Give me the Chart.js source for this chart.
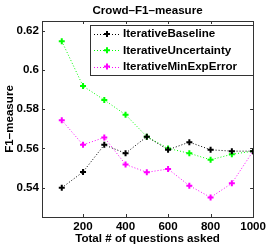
<!DOCTYPE html>
<html>
<head>
<meta charset="utf-8">
<script src="https://cdn.jsdelivr.net/npm/chart.js@4/dist/chart.umd.min.js"></script>
<style>
  html, body { margin: 0; padding: 0; background: #fff; }
  #wrap { width: 269px; height: 249px; }
</style>
</head>
<body>
<div id="wrap"><canvas id="f1-chart"></canvas></div>
<script>
const questions = [100, 200, 300, 400, 500, 600, 700, 800, 900, 1000];
const baseline = [0.5399, 0.548, 0.5618, 0.5575, 0.566, 0.5593, 0.5632, 0.5593, 0.5586, 0.5586];
const uncertainty = [0.6147, 0.5918, 0.5847, 0.5772, 0.566, 0.560, 0.5575, 0.5542, 0.557, 0.5586];
const minExpError = [0.5744, 0.5618, 0.5656, 0.5518, 0.5478, 0.5495, 0.541, 0.535, 0.5422, 0.5586];
const xTicks = [200, 400, 600, 800, 1000];
const yTicks = [0.54, 0.56, 0.58, 0.6, 0.62];
const yTickLabels = ['0.54', '0.56', '0.58', '0.6', '0.62'];

const FONT = '"Liberation Sans", Arial, Helvetica, sans-serif';
const AXIS = '#333';
const FS = 11.6;

function series(label, values, color) {
  return {
    label,
    data: questions.map((q, i) => ({ x: q, y: values[i] })),
    borderColor: color,
    backgroundColor: color,
    borderWidth: 1,
    borderDash: [1, 2],
    pointStyle: 'cross',
    pointRadius: 3,
    pointBorderWidth: 2,
    pointBorderColor: color,
    tension: 0
  };
}

// box, inward ticks, title and legend drawn MATLAB style
const matlabFrame = {
  id: 'matlabFrame',
  afterDraw(chart) {
    const ctx = chart.ctx;
    const a = chart.chartArea;
    const xs = chart.scales.x, ys = chart.scales.y;
    ctx.save();
    ctx.strokeStyle = AXIS;
    ctx.lineWidth = 1;
    ctx.strokeRect(Math.round(a.left) + 0.5, Math.round(a.top) + 0.5,
      Math.round(a.right - a.left), Math.round(a.bottom - a.top));
    ctx.beginPath();
    xTicks.forEach(v => {
      const px = Math.round(xs.getPixelForValue(v)) + 0.5;
      ctx.moveTo(px, a.bottom); ctx.lineTo(px, a.bottom - 3);
      ctx.moveTo(px, a.top); ctx.lineTo(px, a.top + 3);
    });
    yTicks.forEach(v => {
      const py = Math.round(ys.getPixelForValue(v)) + 0.5;
      ctx.moveTo(a.left, py); ctx.lineTo(a.left + 3, py);
      ctx.moveTo(a.right, py); ctx.lineTo(a.right - 3, py);
    });
    ctx.stroke();

    // title
    ctx.fillStyle = '#000';
    ctx.font = 'bold ' + FS + 'px ' + FONT;
    ctx.textAlign = 'center';
    ctx.textBaseline = 'middle';
    ctx.fillText('Crowd\u2013F1\u2013measure', (a.left + a.right) / 2, 11);

    // legend
    const lx = 90, ly = 25, lw = 163, lh = 50;
    ctx.fillStyle = '#fff';
    ctx.fillRect(lx, ly, lw, lh);
    ctx.strokeStyle = AXIS;
    ctx.strokeRect(lx + 0.5, ly + 0.5, lw, lh);
    chart.data.datasets.forEach((ds, i) => {
      const y = 34 + i * 16.3;
      ctx.strokeStyle = ds.borderColor;
      ctx.lineWidth = 1;
      ctx.setLineDash([1, 2]);
      ctx.beginPath();
      ctx.moveTo(94, Math.round(y) + 0.5); ctx.lineTo(120, Math.round(y) + 0.5);
      ctx.stroke();
      ctx.setLineDash([]);
      ctx.lineWidth = 2;
      ctx.beginPath();
      ctx.moveTo(107 - 3, y); ctx.lineTo(107 + 3, y);
      ctx.moveTo(107, y - 3); ctx.lineTo(107, y + 3);
      ctx.stroke();
      ctx.fillStyle = '#000';
      ctx.textAlign = 'left';
      ctx.fillText(ds.label, 123, y);
    });
    ctx.restore();
  }
};

new Chart(document.getElementById('f1-chart'), {
  type: 'line',
  data: {
    datasets: [
      series('IterativeBaseline', baseline, '#000000'),
      series('IterativeUncertainty', uncertainty, '#00ff00'),
      series('IterativeMinExpError', minExpError, '#ff00ff')
    ]
  },
  options: {
    responsive: true,
    maintainAspectRatio: false,
    animation: false,
    devicePixelRatio: 1,
    layout: { padding: { top: 21, right: 14.5, bottom: 0, left: 0 } },
    plugins: {
      legend: { display: false },
      title: { display: false },
      tooltip: { enabled: false }
    },
    scales: {
      x: {
        type: 'linear',
        min: 7,
        max: 1000,
        afterBuildTicks: s => { s.ticks = xTicks.map(v => ({ value: v })); },
        afterFit: s => { s.height = 32; },
        grid: { display: false, drawTicks: false },
        border: { display: false },
        ticks: {
          color: '#000',
          padding: 3,
          maxRotation: 0,
          font: { family: FONT, size: FS, weight: 'bold' },
          callback: (v) => String(v)
        },
        title: {
          display: true,
          text: 'Total # of questions asked',
          color: '#000',
          padding: { top: 0, bottom: 3 },
          font: { family: FONT, size: FS, weight: 'bold' }
        }
      },
      y: {
        min: 0.525,
        max: 0.625,
        afterBuildTicks: s => { s.ticks = yTicks.map(v => ({ value: v })); },
        afterFit: s => { s.width = 42; },
        grid: { display: false, drawTicks: false },
        border: { display: false },
        ticks: {
          color: '#000',
          padding: 3,
          font: { family: FONT, size: FS, weight: 'bold' },
          callback: (v) => yTickLabels[yTicks.indexOf(v)] ?? ''
        },
        title: {
          display: true,
          text: 'F1\u2013measure',
          color: '#000',
          padding: { top: 3, bottom: 0 },
          font: { family: FONT, size: FS, weight: 'bold' }
        }
      }
    }
  },
  plugins: [matlabFrame]
});
</script>
</body>
</html>
